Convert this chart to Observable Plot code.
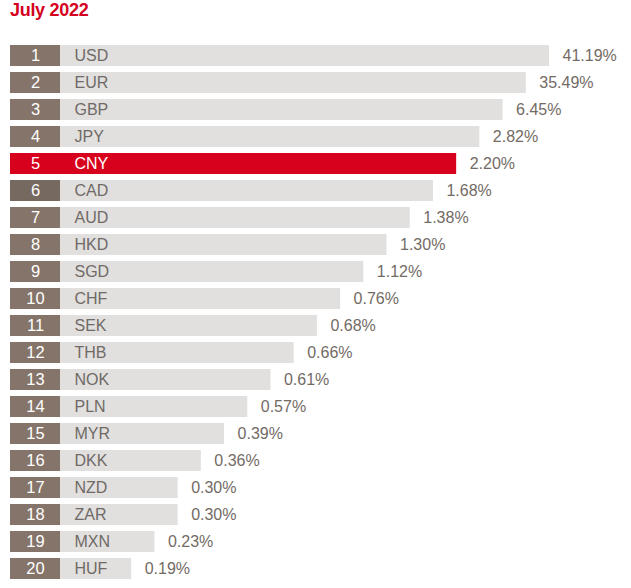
<!DOCTYPE html>
<html>
<head>
<meta charset="utf-8">
<script src="https://cdn.jsdelivr.net/npm/d3@7"></script>
<script src="https://cdn.jsdelivr.net/npm/@observablehq/plot@0.6"></script>
<style>
  html, body { margin: 0; padding: 0; background: #ffffff; }
  #title { font: bold 18px "Liberation Sans", Arial, sans-serif; color: #d4001d; line-height: 20px; height: 30px; padding-left: 10px; letter-spacing: -0.3px; }
  svg { display: block; }
</style>
</head>
<body>
<div id="title">July 2022</div>
<div id="chart"></div>
<script>
const title = "July 2022";
const ranks = [1,2,3,4,5,6,7,8,9,10,11,12,13,14,15,16,17,18,19,20];
const currencies = ["USD","EUR","GBP","JPY","CNY","CAD","AUD","HKD","SGD","CHF","SEK","THB","NOK","PLN","MYR","DKK","NZD","ZAR","MXN","HUF"];
const shares = [41.19,35.49,6.45,2.82,2.20,1.68,1.38,1.30,1.12,0.76,0.68,0.66,0.61,0.57,0.39,0.36,0.30,0.30,0.23,0.19];
const highlight = "CNY";
const darkerBox = 6;

// bar length follows the dense rank of the share (ties share a length)
const distinct = Array.from(new Set(shares)).sort((a, b) => a - b);
const data = ranks.map((rank, i) => ({
  rank,
  currency: currencies[i],
  share: shares[i],
  level: distinct.indexOf(shares[i]) + 1,
  hi: currencies[i] === highlight
}));

const RED = "#d7001d", BOX = "#857469", BOX_DARK = "#766a60", BAR = "#e2e0de";
const font = '"Liberation Sans", Arial, sans-serif';

const chart = Plot.plot({
  width: 631,
  height: 558,
  marginTop: 7,
  marginBottom: 1,
  marginLeft: 10,
  marginRight: 0,
  style: { fontFamily: font, background: "#ffffff" },
  x: { domain: [0, distinct.length], range: [108, 549], axis: null },
  y: { domain: ranks, padding: 0.22, axis: null },
  marks: [
    Plot.barX(data, { y: "rank", x1: 0, x2: "level", insetLeft: -98, fill: d => d.hi ? RED : BAR }),
    Plot.barX(data, { y: "rank", x1: 0, x2: 0, insetLeft: -98, insetRight: 48, fill: d => d.hi ? RED : d.rank === darkerBox ? BOX_DARK : BOX }),
    Plot.ruleX(data.filter(d => d.hi), { x: 0, dx: -48, y: "rank", stroke: "#ee7a86", strokeWidth: 1 }),
    Plot.text(data, { y: "rank", x: 0, dx: -73, text: d => String(d.rank), fill: "#ffffff", fontSize: 16.5, textAnchor: "middle", letterSpacing: "-1.2px" }),
    Plot.text(data, { y: "rank", x: 0, dx: -34, text: "currency", fill: d => d.hi ? "#ffffff" : "#6f6a67", fontSize: 16, textAnchor: "start", letterSpacing: "-1px" }),
    Plot.text(data, { y: "rank", x: "level", dx: 13, text: d => d.share.toFixed(2) + "%", fill: "#736b65", fontSize: 16, textAnchor: "start", letterSpacing: "-0.4px" })
  ]
});
document.getElementById("chart").appendChild(chart);
</script>
</body>
</html>
